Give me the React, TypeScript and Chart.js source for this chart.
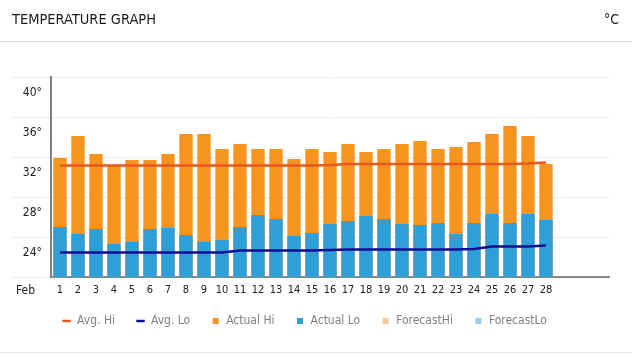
import React, { useEffect, useRef } from 'react';
import { Chart, registerables } from 'chart.js';

Chart.register(...registerables);

// ---- data ----
const DAYS = ['1','2','3','4','5','6','7','8','9','10','11','12','13','14','15','16','17','18','19','20','21','22','23','24','25','26','27','28'];
const EMPTY_SLOTS = ['', '', ''];
const ACTUAL_HI = [31.9, 34.1, 32.3, 31.2, 31.7, 31.7, 32.3, 34.3, 34.3, 32.8, 33.3, 32.8, 32.8, 31.8, 32.8, 32.5, 33.3, 32.5, 32.8, 33.3, 33.6, 32.8, 33.0, 33.5, 34.3, 35.1, 34.1, 31.3];
const ACTUAL_LO = [25.0, 24.3, 24.8, 23.3, 23.5, 24.8, 24.9, 24.2, 23.5, 23.7, 25.0, 26.2, 25.8, 24.1, 24.4, 25.3, 25.6, 26.1, 25.8, 25.3, 25.2, 25.4, 24.3, 25.4, 26.3, 25.4, 26.3, 25.7];
const AVG_HI = [31.15, 31.15, 31.15, 31.15, 31.15, 31.15, 31.15, 31.15, 31.15, 31.15, 31.15, 31.15, 31.15, 31.15, 31.15, 31.2, 31.3, 31.3, 31.3, 31.3, 31.3, 31.3, 31.3, 31.3, 31.3, 31.3, 31.35, 31.45];
const AVG_LO = [22.45, 22.45, 22.45, 22.45, 22.45, 22.45, 22.45, 22.45, 22.45, 22.45, 22.65, 22.65, 22.65, 22.65, 22.65, 22.7, 22.75, 22.75, 22.75, 22.75, 22.75, 22.75, 22.75, 22.8, 23.05, 23.05, 23.05, 23.15];
const FORECAST_HI: number[] = [];
const FORECAST_LO: number[] = [];
const Y_MIN = 20;
const Y_MAX = 40;
const Y_STEP = 4;
const MONTH_LABEL = 'Feb';
const TITLE = 'TEMPERATURE GRAPH';
const UNIT = '°C';

const FONT = "'Liberation Sans Narrow', 'DejaVu Sans Condensed', 'Roboto', sans-serif";

const monthLabelPlugin = {
  id: 'monthLabel',
  afterDraw(chart: any) {
    const ctx = chart.ctx;
    ctx.save();
    ctx.font = `12px ${FONT}`;
    ctx.fillStyle = '#222';
    ctx.textAlign = 'left';
    ctx.textBaseline = 'middle';
    ctx.fillText(MONTH_LABEL, 16, chart.chartArea.bottom + 14);
    ctx.restore();
  },
};

export default function App() {
  const ref = useRef<HTMLCanvasElement | null>(null);

  useEffect(() => {
    if (!ref.current) return;
    const chart = new Chart(ref.current, {
      type: 'bar',
      data: {
        labels: [...DAYS, ...EMPTY_SLOTS],
        datasets: [
          { type: 'line', label: 'Avg. Hi', data: AVG_HI, borderColor: '#E8581C', backgroundColor: '#E8581C', borderWidth: 2.5, pointRadius: 0, tension: 0, order: 0 } as any,
          { type: 'line', label: 'Avg. Lo', data: AVG_LO, borderColor: '#0E0E92', backgroundColor: '#0E0E92', borderWidth: 2.5, pointRadius: 0, tension: 0, order: 0 } as any,
          { label: 'Actual Hi', data: ACTUAL_HI, backgroundColor: '#F7941E', borderWidth: 0, grouped: false, order: 3 } as any,
          { label: 'Actual Lo', data: ACTUAL_LO, backgroundColor: '#2E9FD9', borderWidth: 0, grouped: false, order: 2 } as any,
          { label: 'ForecastHi', data: FORECAST_HI, backgroundColor: '#FBC898', borderWidth: 0, grouped: false, order: 4 } as any,
          { label: 'ForecastLo', data: FORECAST_LO, backgroundColor: '#97CDE8', borderWidth: 0, grouped: false, order: 4 } as any,
        ],
      },
      options: {
        animation: false,
        responsive: false,
        devicePixelRatio: 1,
        layout: { padding: { top: 77, left: 0, right: 23, bottom: 17 } },
        datasets: { bar: { barPercentage: 0.74, categoryPercentage: 1 } },
        plugins: {
          tooltip: { enabled: false },
          legend: {
            position: 'bottom',
            labels: {
              usePointStyle: true,
              boxWidth: 9,
              boxHeight: 6,
              padding: 21,
              color: '#808080',
              font: { size: 12, family: FONT },
              sort: (a: any, b: any) => a.datasetIndex - b.datasetIndex,
              generateLabels: (chart: any) =>
                chart.data.datasets.map((ds: any, i: number) => ({
                  text: ds.label,
                  datasetIndex: i,
                  fillStyle: ds.backgroundColor,
                  strokeStyle: ds.type === 'line' ? ds.borderColor : ds.backgroundColor,
                  lineWidth: ds.type === 'line' ? 2.5 : 0,
                  pointStyle: ds.type === 'line' ? 'line' : 'rect',
                  hidden: false,
                  fontColor: '#808080',
                })),
            },
          },
        },
        scales: {
          x: {
            grid: { display: false, drawTicks: false },
            border: { display: true, color: '#888888', width: 2 },
            ticks: {
              autoSkip: false,
              maxRotation: 0,
              padding: 7,
              color: '#222',
              font: { size: 11, family: FONT },
            },
            afterFit: (s: any) => { s.height = 17; },
          },
          y: {
            min: Y_MIN,
            max: Y_MAX,
            grid: { color: '#ececec', lineWidth: 1, drawTicks: true, tickLength: 39, tickColor: '#ececec' },
            border: { display: true, color: '#808080', width: 2 },
            ticks: {
              stepSize: Y_STEP,
              padding: -30,
              labelOffset: 16,
              color: '#222',
              font: { size: 12, family: FONT },
              callback: (v: any) => (Number(v) === Y_MIN ? '' : `${v}°`),
            },
            afterFit: (s: any) => { s.width = 51; },
          },
        },
      },
      plugins: [monthLabelPlugin],
    } as any);
    return () => chart.destroy();
  }, []);

  return (
    <div style={{ position: 'absolute', left: 0, top: 0, width: 632, height: 354, background: '#fff', overflow: 'hidden' }}>
      <canvas ref={ref} width={632} height={354} style={{ position: 'absolute', left: 0, top: 0, width: 632, height: 354 }} />
      <div style={{ position: 'absolute', left: 0, top: 0, width: 632, height: 41, borderBottom: '1px solid #dcdcdc', fontFamily: FONT, color: '#1a1a1a' }}>
        <span style={{ position: 'absolute', left: 12, top: 0, lineHeight: '39px', fontSize: 14.5 }}>{TITLE}</span>
        <span style={{ position: 'absolute', right: 13, top: 0, lineHeight: '39px', fontSize: 14 }}>{UNIT}</span>
      </div>
      <div style={{ position: 'absolute', left: 0, top: 352, width: 632, height: 1, background: '#e4e6ec' }} />
    </div>
  );
}
